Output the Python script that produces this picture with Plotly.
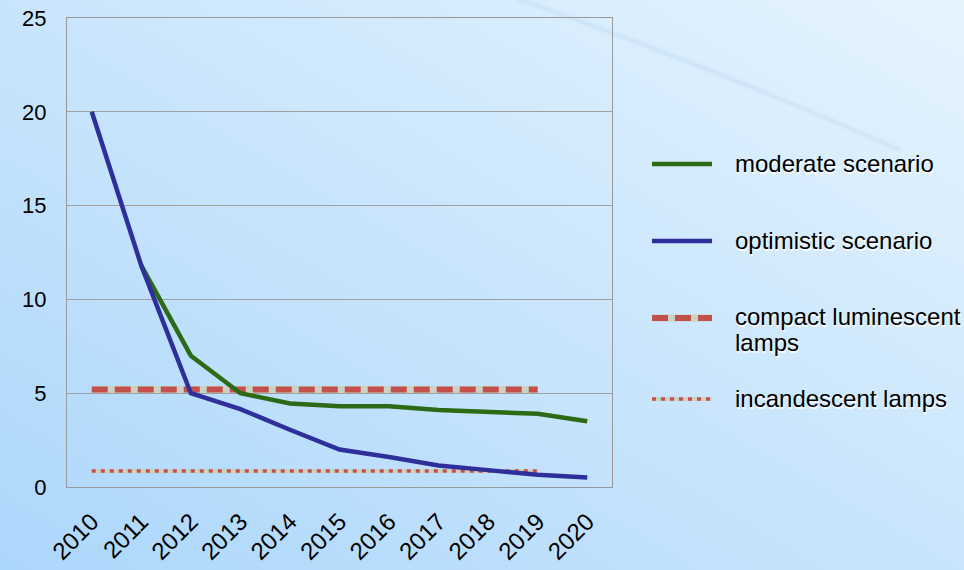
import base64
import plotly.graph_objects as go

years = ["2010", "2011", "2012", "2013", "2014", "2015", "2016", "2017", "2018", "2019", "2020"]
moderate = [None, 11.8, 7.0, 5.0, 4.45, 4.3, 4.3, 4.1, 4.0, 3.9, 3.5]
optimistic = [20.0, 11.8, 5.0, 4.15, 3.05, 2.0, 1.6, 1.15, 0.9, 0.65, 0.5]
compact = [5.2, 5.2, 5.2, 5.2, 5.2, 5.2, 5.2, 5.2, 5.2, 5.2, None]
incandescent = [0.85, 0.85, 0.85, 0.85, 0.85, 0.85, 0.85, 0.85, 0.85, 0.85, None]

legend_labels = ["moderate scenario", "optimistic scenario", "compact luminescent", "lamps", "incandescent lamps"]
y_ticks = [0, 5, 10, 15, 20, 25]

GREEN, BLUE, RED, GREY = "#2d6a15", "#2f2f9c", "#c4504b", "#c9d2c4"

W, H = 964, 570
L, R, T, B = 67, 352, 18, 83
PW, PH = W - L - R, H - T - B


def px(xp):
    return (xp - L) / PW


def py(yp):
    return (H - B - yp) / PH


svg = f'''<svg xmlns="http://www.w3.org/2000/svg" width="{W}" height="{H}" viewBox="0 0 {W} {H}">
<defs><linearGradient id="g" x1="0" y1="1" x2="1" y2="0">
<stop offset="0" stop-color="#acd7fc"/><stop offset="0.5" stop-color="#c9e5fc"/><stop offset="1" stop-color="#e6f4fe"/>
</linearGradient>
<filter id="b"><feGaussianBlur stdDeviation="1.5"/></filter></defs>
<rect width="{W}" height="{H}" fill="url(#g)"/>
<path d="M515,-2 Q700,62 900,150" stroke="#b9d3ec" stroke-width="4" fill="none" opacity="0.4" filter="url(#b)"/>
</svg>'''
src = "data:image/svg+xml;base64," + base64.b64encode(svg.encode()).decode()

fig = go.Figure()
fig.add_trace(go.Scatter(x=years, y=compact, mode="lines", line=dict(color=GREY, width=7),
                         showlegend=False, hoverinfo="skip"))
fig.add_trace(go.Scatter(x=years, y=incandescent, mode="lines", line=dict(color=GREY, width=4),
                         showlegend=False, hoverinfo="skip"))
fig.add_trace(go.Scatter(x=years, y=compact, mode="lines", name="compact luminescent lamps",
                         line=dict(color=RED, width=6, dash="16px,7px"), showlegend=False))
fig.add_trace(go.Scatter(x=years, y=incandescent, mode="lines", name="incandescent lamps",
                         line=dict(color=RED, width=3.5, dash="4px,5px"), showlegend=False))
fig.add_trace(go.Scatter(x=years, y=moderate, mode="lines", name="moderate scenario",
                         line=dict(color=GREEN, width=4.5), showlegend=False))
fig.add_trace(go.Scatter(x=years, y=optimistic, mode="lines", name="optimistic scenario",
                         line=dict(color=BLUE, width=4.5), showlegend=False))

# hand-placed legend (line samples + labels)
shapes = []
legend_rows = [(164, GREEN, 4.5, "solid", None), (241, BLUE, 4.5, "solid", None),
               (318, RED, 6, "16px,7px", 7), (399, RED, 3.5, "4px,5px", 4)]
for yp, col, w, dash, under in legend_rows:
    if under:
        shapes.append(dict(type="line", xref="paper", yref="paper", x0=px(652), x1=px(712),
                           y0=py(yp), y1=py(yp), line=dict(color=GREY, width=under)))
    shapes.append(dict(type="line", xref="paper", yref="paper", x0=px(652), x1=px(712),
                       y0=py(yp), y1=py(yp), line=dict(color=col, width=w, dash=dash)))

label_y = [163, 240, 316, 342, 398]
legend_font = dict(size=24, family="Liberation Sans, Arial, sans-serif", color="#000000",
                   shadow="1px 2px 1px rgba(255,255,255,0.95)")
annotations = [dict(text=t, xref="paper", yref="paper", x=px(733), y=py(yp), xanchor="left",
                    yanchor="middle", showarrow=False, font=legend_font)
               for t, yp in zip(legend_labels, label_y)]

fig.update_layout(
    width=W, height=H,
    margin=dict(l=L, r=R, t=T, b=B, pad=0, autoexpand=False),
    paper_bgcolor="rgba(0,0,0,0)", plot_bgcolor="rgba(0,0,0,0)",
    font=dict(family="Liberation Sans, Arial, sans-serif", color="#000000"),
    images=[dict(source=src, xref="paper", yref="paper", x=-L / PW, y=1 + T / PH,
                 sizex=W / PW, sizey=H / PH, sizing="stretch", xanchor="left", yanchor="top",
                 layer="below")],
    xaxis=dict(type="category", range=[-0.5, 10.5], showgrid=False, showline=True, mirror=True,
               linecolor="#999999", linewidth=1.2, ticks="", tickangle=-45, ticklabelstandoff=10,
               tickfont=dict(size=24), zeroline=False, automargin=False),
    yaxis=dict(range=[0, 25], tickvals=y_ticks, showgrid=True, gridcolor="#a0a0a0", gridwidth=1.2,
               showline=True, mirror=True, linecolor="#999999", linewidth=1.2, ticks="",
               ticklabelstandoff=15, tickfont=dict(size=22), zeroline=False, automargin=False),
    shapes=shapes,
    annotations=annotations,
    showlegend=False,
)

fig.write_html("out.html")
